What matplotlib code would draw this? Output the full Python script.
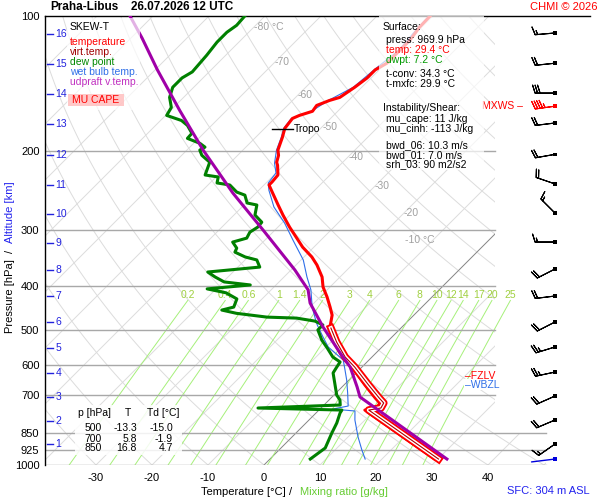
import numpy as np
import matplotlib.pyplot as plt
from matplotlib.patches import Rectangle, Polygon

plt.rcParams['font.family'] = ['Liberation Sans', 'DejaVu Sans']
plt.rcParams['axes.unicode_minus'] = False

# temperature [hPa], [deg C]
t_p = [969.9, 754.5, 746.6, 727.6, 709.2, 663.6, 605.1, 574.7, 532.2, 495.5,
       463.6, 444.9, 422.4, 401.3, 381.3, 358.6, 344.1, 327.2, 312.7, 295.3,
       277.5, 263.6, 248.0, 237.9, 234.2, 226.0, 215.0, 211.7, 204.3, 198.9,
       186.5, 177.9, 169.1, 166.5, 163.0, 158.2, 154.2, 151.8, 144.1, 137.4,
       131.8, 127.4, 119.2, 113.2, 106.0, 100.0]
t_val = [29.4, 8.2, 10.0, 9.6, 7.9, 3.75, -1.8, -5.2, -9.3, -12.7,
         -14.6, -16.4, -18.75, -21.25, -23.2, -26.25, -28.6, -32.0, -34.6, -37.9,
         -41.25, -43.9, -47.0, -49.1, -49.1, -49.3, -51.1, -51.8, -52.7, -53.75,
         -55.2, -56.4, -56.8, -56.1, -54.5, -54.8, -53.4, -52.1, -51.25, -50.7,
         -50.7, -49.8, -49.8, -49.8, -50.4, -50.5]

# virtual temperature (lower part)
tv_p = [969.9, 754.5, 746.6, 727.6, 709.2, 663.6, 605.1, 574.7, 532.2, 495.5]
tv_val = [30.1, 8.9, 10.7, 10.3, 8.6, 4.4, -1.3, -4.8, -9.0, -12.5]

# dew point
td_p = [969.9, 916.5, 848.7, 806.3, 766.1, 754.5, 746.6, 735.2, 716.6, 698.7,
        656.9, 623.7, 605.1, 589.7, 574.7, 548.8, 526.8, 500.2, 487.6, 478.1,
        470.8, 468.4, 459.4, 451.8, 444.9, 426.7, 413.6, 405.3, 397.2, 391.1,
        381.3, 371.7, 362.4, 349.4, 344.1, 335.7, 328.8, 318.8, 312.4, 303.0,
        295.3, 287.9, 277.5, 263.6, 260.9, 250.6, 246.7, 237.9, 235.4, 228.3,
        226.0, 211.7, 204.3, 198.9, 195.9, 192.1, 187.3, 182.5, 175.3, 170.9,
        166.5, 159.8, 151.8, 144.1, 137.4, 133.2, 122.3, 114.3, 108.7, 104.9,
        100.0]
td_val = [7.2, 7.9, 6.4, 5.5, 4.3, 4.1, -11.25, 2.9, 1.96, 0.5,
          -2.0, -4.1, -4.5, -4.8, -7.0, -9.6, -12.0, -14.5, -14.5, -16.6,
          -20.4, -25.9, -32.0, -35.2, -33.6, -34.5, -37.5, -41.6, -34.6, -39.8,
          -42.3, -44.5, -36.1, -37.9, -40.5, -43.2, -43.6, -45.4, -43.6, -44.1,
          -43.6, -43.75, -46.25, -47.7, -49.8, -51.6, -53.6, -56.1, -58.75, -59.6,
          -62.3, -63.75, -66.4, -67.7, -67.3, -68.9, -72.0, -72.1, -74.3, -76.25,
          -79.8, -80.4, -82.5, -83.75, -83.75, -83.0, -83.4, -83.9, -83.9, -83.4,
          -83.6]

# wet bulb temperature
tw_p = [969.9, 926.0, 866.3, 794.0, 758.1, 750.6, 739.0, 691.6, 646.9, 614.3,
        583.6, 546.0, 518.9, 487.6, 470.8, 444.9, 407.3, 381.3, 349.4, 315.5,
        289.3, 266.3, 244.3, 235.4, 223.7, 212.8, 198.9, 186.5, 177.9, 169.1,
        163.0, 154.2, 144.1, 131.8, 119.2, 106.0, 100.0]
tw_val = [17.0, 14.8, 11.8, 8.2, 6.6, 2.3, 4.5, 2.1, -0.4, -2.5,
          -4.6, -9.6, -12.3, -15.5, -17.1, -19.6, -22.9, -25.9, -29.6, -35.0,
          -39.5, -44.3, -48.2, -49.6, -50.0, -52.0, -54.0, -55.4, -56.6, -57.0,
          -54.7, -53.6, -51.5, -50.9, -50.0, -50.6, -50.7]

# MU parcel virtual temperature
pu_p = [969.9, 705.6, 670.3, 605.1, 563.1, 492.8, 435.7, 407.3, 367.9, 299.8,
        248.0, 198.9, 162.2, 131.8, 112.0, 100.0]
pu_val = [31.6, 5.0, 2.7, -2.1, -6.4, -14.1, -20.7, -23.4, -29.3, -42.1,
          -54.1, -67.1, -78.4, -89.6, -98.0, -104.1]

# wind profile (direction from, speed)
wind_p = [109.1, 127.4, 148.5, 158.8, 173.1, 203.3, 236.6, 274.7, 318.8, 366.0,
          420.4, 480.3, 546.0, 620.9, 702.1, 794.0, 897.9]
wind_dir = [265, 264, 270, 262, 263, 260, 289, 315, 270, 243,
            263, 243, 253, 258, 246, 247, 235]
wind_spd = [15, 20, 30, 45, 20, 20, 20, 15, 15, 20,
            20, 20, 25, 25, 20, 20, 15]
mxws_idx = 3
sfc_p, sfc_dir, sfc_spd = 969.9, 263, 3

# altitude marks [km] and their pressure
alt_km = list(range(1, 17))
alt_p = [897.9, 798.0, 705.6, 624.0, 548.8, 480.3, 420.4, 367.9, 320.3, 276.0,
         237.9, 204.0, 174.0, 149.2, 127.6, 109.4]

tropo_p, tropo_t = 178.5, -56.4
mix_ratios = [0.2, 0.4, 0.6, 1, 1.4, 2, 3, 4, 6, 8, 10, 12, 14, 17, 20, 25]
p_levels = [200, 300, 400, 500, 600, 700, 850, 925, 1000]
iso_labels = ['-80 °C', '-70', '-60', '-50', '-40', '-30', '-20', '-10 °C']
iso_label_t = [-80, -70, -60, -50, -40, -30, -20, -10]
iso_label_p = [105.8, 126.6, 150.0, 176.6, 206.0, 239.2, 274.7, 315.5]

SKEW = 34.82


def skew_x(t, p):
    return np.asarray(t, float) + SKEW * np.log(1000.0 / np.asarray(p, float))


W, H = 600, 500
fig = plt.figure(figsize=(6, 5), dpi=100)
ax = fig.add_axes([45 / W, 35 / H, 550 / W, 449 / H])
ax.set_yscale('log')
XL, XR = -39.107, 59.107
ax.set_xlim(XL, XR)
ax.set_ylim(1000, 100)

X_GRID, X_LOW = 41.25, 50.36
clip = Polygon([(XL, 1000), (X_LOW, 1000), (X_LOW, 850), (X_GRID, 850),
                (X_GRID, 100), (XL, 100)], closed=True, transform=ax.transData)

pp = np.geomspace(1000, 100, 80)
grid_c = '#dcdcdc'
for t0 in range(-160, 60, 10):
    ln, = ax.plot(skew_x(t0, pp), pp, color=grid_c, lw=0.7, zorder=1)
    ln.set_clip_path(clip)
ln, = ax.plot(skew_x(0, pp), pp, color='#808080', lw=0.6, zorder=1.2)
ln.set_clip_path(clip)
for th in range(-40, 230, 10):
    tt = (th + 273.15) * (pp / 1000.0) ** 0.2857 - 273.15
    ln, = ax.plot(skew_x(tt, pp), pp, color=grid_c, lw=0.7, zorder=1)
    ln.set_clip_path(clip)

pm = np.geomspace(1000, 430, 30)
for w in mix_ratios:
    e = w * pm / (622.0 + w)
    a = np.log(e / 6.112)
    td = 243.5 * a / (17.67 - a)
    ax.plot(skew_x(td, pm), pm, color='#a6f07a', lw=0.7, zorder=1.5)
    ax.text(skew_x(td[-1], pm[-1]), 418, '%g' % w, color='#a0d040',
            fontsize=7.5, ha='center', va='center', zorder=1.6)

for p in p_levels:
    xe = X_LOW if p >= 850 else X_GRID
    ax.plot([XL, xe], [p, p], color='#a8a8a8', lw=1, zorder=1.8)
ax.plot([XL, 58.21], [100, 100], color='black', lw=1, clip_on=False, zorder=2)

for t0, lab, pl in zip(iso_label_t, iso_labels, iso_label_p):
    xo = -5 if t0 == -10 else 0
    ax.text(skew_x(t0, pl) + xo, pl, lab, color='#a0a0a0', fontsize=7.5,
            ha='left', va='center', zorder=1.6)

# profiles
ax.plot(skew_x(tw_val, tw_p), tw_p, color='#2f6fe8', lw=0.8, zorder=3.9)
ax.plot(skew_x(t_val, t_p), t_p, color='red', lw=2.2, zorder=4)
xv = skew_x(tv_val, tv_p)
ax.plot(xv, tv_p, color='red', lw=5.6, zorder=4.1)
ax.plot(xv, tv_p, color='white', lw=2.9, zorder=4.2)
ax.plot(xv, tv_p, color='#aa0000', lw=0.8, zorder=4.3)
ax.plot(skew_x(td_val, td_p), td_p, color='#008000', lw=2.2, zorder=4.4)
ax.plot(skew_x(pu_val, pu_p), pu_p, color='#a000a8', lw=2.2, zorder=4.6)

xt = skew_x(tropo_t, tropo_p)
ax.plot([xt - 2.2, xt + 1.6], [tropo_p, tropo_p], color='black', lw=1, zorder=5)
ax.text(xt + 1.8, tropo_p, 'Tropo', fontsize=7.5, va='center', ha='left', zorder=5)

# altitude marks
for km, pa in zip(alt_km, alt_p):
    ax.plot([-38.75, -37.7], [pa, pa], color='#2222dd', lw=1, zorder=5)
    ax.text(-37.2, pa, str(km), color='#2222dd', fontsize=7.5, va='center',
            ha='left', zorder=5)

# winds
BX = 51.96
d = np.radians(wind_dir)
u = -np.array(wind_spd) * np.sin(d)
v = -np.array(wind_spd) * np.cos(d)
cols = ['red' if i == mxws_idx else 'black' for i in range(len(wind_p))]
ax.barbs(np.full(len(wind_p), BX), wind_p, u, v, length=5.35, lw=0.8,
         barbcolor=cols, flagcolor=cols, zorder=5, clip_on=False)
ax.scatter(np.full(len(wind_p), BX), wind_p, marker='s', s=7, c=cols,
           zorder=6, clip_on=False, linewidths=0)
sd = np.radians(sfc_dir)
ax.annotate('', xy=(BX, sfc_p), xytext=(17 * np.sin(sd), 17 * np.cos(sd)),
            textcoords='offset points',
            arrowprops=dict(arrowstyle='-', color='#0000dd', lw=1,
                            shrinkA=0, shrinkB=0), zorder=5)
ax.scatter([BX], [sfc_p], marker='s', s=7, c='#0000dd', zorder=6,
           clip_on=False, linewidths=0)
ax.text(BX - 5.8, wind_p[mxws_idx], 'MXWS –', color='red', fontsize=7.5,
        ha='right', va='center', zorder=5)

# freezing levels
ax.text(35.9, 634.0, '–FZLV', color='red', fontsize=7.5, va='center',
        ha='left', zorder=5)
ax.text(35.9, 662.0, '–WBZL', color='#2f6fe8', fontsize=7.5, va='center',
        ha='left', zorder=5.1,
        bbox=dict(facecolor='white', edgecolor='none', pad=0.6))

ax.set_yticks(p_levels + [100])
ax.set_yticklabels([str(p) for p in p_levels + [100]])
ax.minorticks_off()
ax.set_xticks([-30, -20, -10, 0, 10, 20, 30, 40])
ax.tick_params(length=0, labelsize=8, pad=6)
ax.tick_params(axis='y', pad=4)
for s in ['top', 'right', 'bottom']:
    ax.spines[s].set_visible(False)
ax.spines['left'].set_linewidth(1)
ax.set_facecolor('none')
fig.patch.set_facecolor('white')


def ftext(x, y, s, **kw):
    kw.setdefault('fontsize', 7.5)
    kw.setdefault('va', 'center')
    return fig.text(x / W, 1 - y / H, s, zorder=7, **kw)


def fbox(x0, y0, x1, y1, color='white', alpha=0.7):
    fig.add_artist(Rectangle((x0 / W, 1 - y1 / H), (x1 - x0) / W, (y1 - y0) / H,
                             transform=fig.transFigure, facecolor=color,
                             edgecolor='none', alpha=alpha, zorder=6))


ftext(50, 7, 'Praha-Libus', fontsize=8.5, weight='bold')
ftext(131, 7, '26.07.2026 12 UTC', fontsize=8.5, weight='bold')
ftext(597, 7, 'CHMI © 2026', color='red', fontsize=8, ha='right')

# legend
fbox(67, 18, 140, 110)
ftext(70, 27, 'SKEW-T')
ftext(70, 42, 'temperature', color='red')
ftext(70, 52, 'virt.temp.', color='#a00000')
ftext(70, 62, 'dew point', color='#008800')
ftext(70, 72, 'wet bulb temp.', color='#2f6fe8')
ftext(70, 82, 'udpraft v.temp.', color='#c030c0')
fbox(68, 94, 124, 106, color='#ffbbbb', alpha=0.8)
ftext(96, 100, 'MU CAPE', color='red', ha='center')

# surface / instability box
fbox(379, 16, 484, 170)
ftext(383, 27, 'Surface:')
ftext(386, 40, 'press: 969.9 hPa')
ftext(386, 50, 'temp: 29.4 °C', color='red')
ftext(386, 60, 'dwpt: 7.2 °C', color='#009900')
ftext(386, 74, 't-conv: 34.3 °C')
ftext(386, 84, 't-mxfc: 29.9 °C')
ftext(383, 108, 'Instability/Shear:')
ftext(386, 119, 'mu_cape: 11 J/kg')
ftext(386, 129, 'mu_cinh: -113 J/kg')
ftext(386, 145, 'bwd_06: 10.3 m/s')
ftext(386, 155, 'bwd_01: 7.0 m/s')
ftext(386, 164, 'srh_03: 90 m2/s2')

# level table
fbox(75, 405, 182, 455, alpha=0.85)
ftext(78, 413, 'p [hPa]')
ftext(128, 413, 'T', ha='center')
ftext(147, 413, 'Td [°C]')
rows = [('500', '-13.3', '-15.0'), ('700', '5.8', '-1.9'), ('850', '16.8', '4.7')]
for (a, b, c), yy in zip(rows, [428, 438.5, 448]):
    ftext(102, yy, a, ha='right')
    ftext(137, yy, b, ha='right')
    ftext(173, yy, c, ha='right')

# axis titles
ftext(286, 492, 'Temperature [°C]', fontsize=8, ha='right')
ftext(291, 492, '/', fontsize=8, ha='center')
ftext(300, 492, 'Mixing ratio [g/kg]', fontsize=8, color='#66cc33')
ftext(590, 491, 'SFC: 304 m ASL', fontsize=8, color='#2222ee', ha='right')
ftext(10, 296, 'Pressure [hPa]', fontsize=8, rotation=90, ha='center')
ftext(10, 251, '/', fontsize=8, rotation=90, ha='center')
ftext(10, 212, 'Altitude [km]', fontsize=8, rotation=90, ha='center',
      color='#2222ee')

fig.savefig('out.png', dpi=100)
